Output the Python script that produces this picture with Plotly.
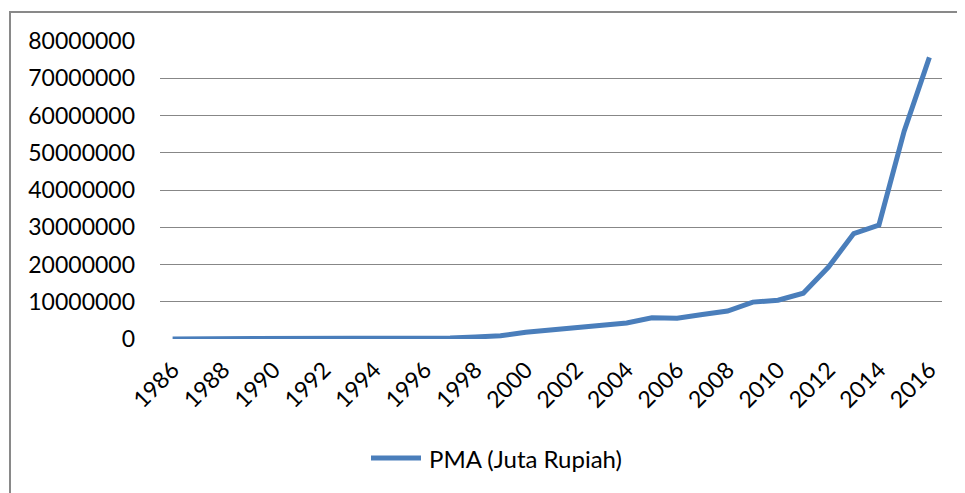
import plotly.graph_objects as go

years = list(range(1986, 2017))
pma_values = [
    30000, 40000, 50000, 60000, 80000, 90000, 100000, 110000, 120000, 130000,
    150000, 300000, 550000, 850000, 1800000, 2500000, 3000000, 3700000, 4300000,
    5700000, 5600000, 6600000, 7500000, 9900000, 10400000, 12300000, 19300000,
    28300000, 30600000, 55800000, 75600000,
]
series_name = "PMA (Juta Rupiah)"
x_tick_years = list(range(1986, 2017, 2))
y_ticks = list(range(0, 80000001, 10000000))

FONT = "Lato, 'Open Sans', sans-serif"
LINE_COLOR = "#4a7ebb"

# The page body has an 8px default margin, so figure coords = window coords - 8
OFF = 8
W, H = 965 - OFF, 493 - OFF
# plot area in window pixels: x 160..942, y 41..339
PL, PR, PT, PB = 160 - OFF, 942 - OFF, 41 - OFF, 339 - OFF
PW, PH = PR - PL, PB - PT


def px(x):
    return (x - OFF - PL) / PW


def py(y):
    return (PB - (y - OFF)) / PH


fig = go.Figure()
fig.add_trace(go.Scatter(
    x=years, y=pma_values, mode="lines", name=series_name,
    line=dict(color=LINE_COLOR, width=5), showlegend=False,
))

fig.update_layout(
    width=W, height=H,
    margin=dict(l=PL, r=W - PR, t=PT, b=H - PB),
    paper_bgcolor="white", plot_bgcolor="white",
    font=dict(family=FONT, size=23, color="black"),
    showlegend=False,
    xaxis=dict(
        range=[1985.5, 2016.5], tickmode="array", tickvals=x_tick_years,
        ticktext=[str(y) for y in x_tick_years], tickangle=-45,
        showgrid=False, zeroline=False, showline=False, ticks="",
        ticklabelstandoff=12, automargin=False,
        tickfont=dict(family=FONT, size=23, color="black"),
    ),
    yaxis=dict(
        range=[0, 80000000], tickmode="array", tickvals=y_ticks,
        ticktext=[str(v) for v in y_ticks],
        showgrid=True, gridcolor="#878787", gridwidth=1.4,
        zeroline=False, showline=False, ticks="",
        ticklabelstandoff=24, automargin=False,
        tickfont=dict(family=FONT, size=23, color="black"),
    ),
    shapes=[
        dict(
            type="rect", xref="paper", yref="paper",
            x0=px(10), x1=1.2, y0=-0.7, y1=py(12),
            line=dict(color="#898989", width=2), fillcolor="rgba(0,0,0,0)",
            layer="below",
        ),
        # legend sample
        dict(
            type="line", xref="paper", yref="paper",
            x0=px(371), x1=px(421), y0=py(458), y1=py(458),
            line=dict(color=LINE_COLOR, width=5),
        ),
    ],
    annotations=[dict(
        text=series_name, xref="paper", yref="paper",
        x=px(427), y=py(459), xanchor="left", yanchor="middle",
        showarrow=False, font=dict(family=FONT, size=24, color="black"),
    )],
)

fig.write_html("out.html")
